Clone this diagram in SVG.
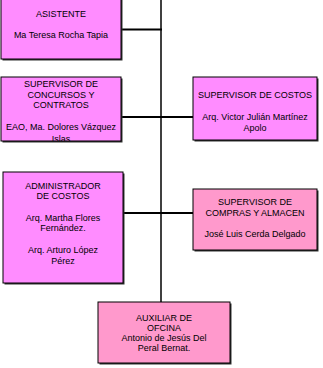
<svg xmlns="http://www.w3.org/2000/svg" width="323" height="368" viewBox="0 0 323 368">
<style>
text{font-family:"Liberation Sans",Arial,sans-serif;font-size:9px;fill:#000;text-anchor:middle}
.v{fill:#ff8cff;stroke:#000;stroke-width:1}
.p{fill:#ff99cc;stroke:#000;stroke-width:1}
.sh{fill:#333}
.c{stroke:#000;stroke-width:2;fill:none}
.trunk{stroke:#404040;stroke-width:2;fill:none}
</style>
<defs>
<clipPath id="clip2"><rect x="1" y="77" width="120" height="64"/></clipPath>
</defs>
<rect x="0" y="0" width="323" height="368" fill="#fff"/>
<g id="connectors">
<line class="trunk" x1="161" y1="0" x2="161" y2="302"/>
<line class="c" x1="121" y1="29.5" x2="162" y2="29.5"/>
<line class="c" x1="121" y1="117" x2="193" y2="117"/>
<line class="c" x1="123" y1="213" x2="193" y2="213"/>
</g>
<g id="asistente">
<rect class="sh" x="2.5" y="-5" width="120" height="65.5"/>
<rect class="v" x="1" y="-5" width="120" height="64"/>
<text x="61" y="17">ASISTENTE</text>
<text x="61" y="38">Ma Teresa Rocha Tapia</text>
</g>
<g id="supervisor-concursos">
<rect class="sh" x="2.5" y="78.5" width="120" height="64"/>
<rect class="v" x="1" y="77" width="120" height="64"/>
<g clip-path="url(#clip2)">
<text x="61" y="87">SUPERVISOR DE</text>
<text x="61" y="98">CONCURSOS Y</text>
<text x="61" y="108">CONTRATOS</text>
<text x="61" y="130">EAO, Ma. Dolores Vázquez</text>
<text x="61" y="141.5">Islas</text>
</g>
</g>
<g id="supervisor-costos">
<rect class="sh" x="194.5" y="78.5" width="124" height="63"/>
<rect class="p" style="fill:#ff8cff" x="193" y="77" width="124" height="63"/>
<text x="255" y="98">SUPERVISOR DE COSTOS</text>
<text x="255" y="120">Arq. Victor Julián Martínez</text>
<text x="255" y="131">Apolo</text>
</g>
<g id="administrador-costos">
<rect class="sh" x="4.5" y="173.5" width="120" height="111"/>
<rect class="v" x="3" y="172" width="120" height="111"/>
<text x="63" y="189">ADMINISTRADOR</text>
<text x="63" y="199">DE COSTOS</text>
<text x="63" y="221">Arq. Martha Flores</text>
<text x="63" y="231">Fernández.</text>
<text x="63" y="253">Arq. Arturo López</text>
<text x="63" y="264">Pérez</text>
</g>
<g id="supervisor-compras">
<rect class="sh" x="194.5" y="190.5" width="124" height="61"/>
<rect class="p" x="193" y="189" width="124" height="61"/>
<text x="255" y="205">SUPERVISOR DE</text>
<text x="255" y="216">COMPRAS Y ALMACEN</text>
<text x="255" y="237">José Luis Cerda Delgado</text>
</g>
<g id="auxiliar-oficina">
<rect class="sh" x="99.5" y="303.5" width="132" height="61"/>
<rect class="p" x="98" y="302" width="132" height="61"/>
<text x="164" y="321">AUXILIAR DE</text>
<text x="164" y="331">OFCINA</text>
<text x="164" y="341">Antonio de Jesús Del</text>
<text x="164" y="351">Peral Bernat.</text>
</g>
</svg>
